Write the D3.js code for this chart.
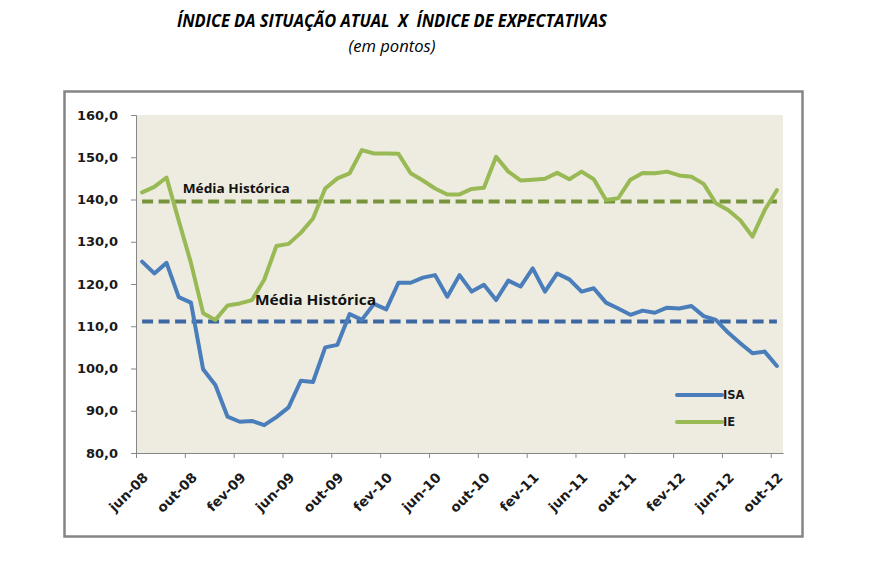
<!DOCTYPE html>
<html>
<head>
<meta charset="utf-8">
<script src="https://cdn.jsdelivr.net/npm/d3@7"></script>
<style>
  html, body { margin: 0; padding: 0; background: #ffffff; }
  svg { display: block; }
</style>
</head>
<body>
<svg id="chart" width="892" height="565"></svg>
<script>
const months = ["jun-08","jul-08","ago-08","set-08","out-08","nov-08","dez-08",
  "jan-09","fev-09","mar-09","abr-09","mai-09","jun-09","jul-09","ago-09","set-09","out-09","nov-09","dez-09",
  "jan-10","fev-10","mar-10","abr-10","mai-10","jun-10","jul-10","ago-10","set-10","out-10","nov-10","dez-10",
  "jan-11","fev-11","mar-11","abr-11","mai-11","jun-11","jul-11","ago-11","set-11","out-11","nov-11","dez-11",
  "jan-12","fev-12","mar-12","abr-12","mai-12","jun-12","jul-12","ago-12","set-12","out-12"];

const isa = [125.3,122.5,125.0,116.9,115.6,99.8,96.1,88.6,87.4,87.6,
  86.6,88.5,90.8,97.1,96.8,105.0,105.6,112.9,111.5,115.3,
  114.0,120.3,120.3,121.5,122.1,117.0,122.1,118.2,119.8,116.2,
  120.8,119.4,123.7,118.2,122.5,121.1,118.2,119.0,115.6,114.2,
  112.7,113.7,113.2,114.4,114.2,114.8,112.4,111.5,108.5,106.0,
  103.6,104.0,100.6];

const ie = [141.7,143.0,145.2,135.0,125.0,113.1,111.5,114.9,115.4,116.2,
  121.0,129.0,129.5,132.1,135.5,142.6,145.0,146.2,151.7,150.9,
  150.9,150.8,146.2,144.5,142.6,141.2,141.2,142.5,142.8,150.1,
  146.6,144.5,144.7,144.9,146.3,144.8,146.6,144.8,139.9,140.3,
  144.7,146.3,146.2,146.6,145.7,145.4,143.7,139.1,137.5,135.1,
  131.2,137.5,142.2];

const meanISA = 111.1;
const meanIE = 139.5;

const yTicks = [80,90,100,110,120,130,140,150,160];
const xTickMonths = ["jun-08","out-08","fev-09","jun-09","out-09","fev-10","jun-10",
  "out-10","fev-11","jun-11","out-11","fev-12","jun-12","out-12"];

const seriesNames = ["ISA","IE"];
const titleText = "ÍNDICE DA SITUAÇÃO ATUAL  X  ÍNDICE DE EXPECTATIVAS";
const subtitleText = "(em pontos)";
const meanLabel = "Média Histórica";

const colors = { ISA: "#4A7EBB", IE: "#98B954", meanISA: "#3C67A3", meanIE: "#77933C" };

const svg = d3.select("#chart");
const W = 892, H = 565;
const plot = { left: 136, right: 783, top: 115, bottom: 453 };

svg.append("rect").attr("width", W).attr("height", H).attr("fill", "#ffffff");

// outer frame
svg.append("rect")
  .attr("x", 64.5).attr("y", 91.5).attr("width", 738).attr("height", 445)
  .attr("fill", "#ffffff").attr("stroke", "#858585").attr("stroke-width", 2.5);

// title
svg.append("text")
  .attr("x", 392).attr("y", 27)
  .attr("text-anchor", "middle")
  .style("font-family", "'Open Sans', sans-serif")
  .style("font-weight", "bold").style("font-style", "italic")
  .style("font-size", "18.5px").attr("fill", "#000")
  .attr("xml:space", "preserve")
  .attr("textLength", 430).attr("lengthAdjust", "spacingAndGlyphs")
  .text(titleText);

svg.append("text")
  .attr("x", 392).attr("y", 52)
  .attr("text-anchor", "middle")
  .style("font-family", "'Open Sans', sans-serif")
  .style("font-style", "italic")
  .style("font-size", "15.5px").attr("fill", "#000")
  .attr("textLength", 87).attr("lengthAdjust", "spacingAndGlyphs")
  .text(subtitleText);

// scales
const x = d3.scalePoint().domain(months).range([plot.left, plot.right]).padding(0.5);
const step = x.step();
const xEdge = d3.scaleLinear().domain([0, months.length]).range([plot.left, plot.right]);
const y = d3.scaleLinear().domain([80, 160]).range([plot.bottom, plot.top]);

// plot bg
svg.append("rect")
  .attr("x", plot.left).attr("y", plot.top)
  .attr("width", plot.right - plot.left).attr("height", plot.bottom - plot.top)
  .attr("fill", "#EEECE1");

// y axis
const yAxis = svg.append("g")
  .attr("transform", `translate(${plot.left},0)`)
  .call(d3.axisLeft(y).tickValues(yTicks).tickSize(5).tickPadding(13)
    .tickFormat(d => d3.format(".1f")(d).replace(".", ",")));
yAxis.select(".domain").attr("stroke", "#868686").attr("stroke-width", 1);
yAxis.selectAll(".tick line").attr("stroke", "#868686");
yAxis.selectAll("text")
  .style("font-family", "'DejaVu Sans', sans-serif").style("font-weight", "bold")
  .style("font-size", "13px").attr("fill", "#1a1a1a");

// x axis
const xTickIdx = xTickMonths.map(m => months.indexOf(m));
const xAxis = svg.append("g")
  .attr("transform", `translate(0,${plot.bottom})`)
  .call(d3.axisBottom(xEdge).tickValues(xTickIdx).tickSize(5).tickSizeOuter(0)
    .tickFormat(i => months[i]));
xAxis.select(".domain").attr("stroke", "#868686").attr("stroke-width", 1);
xAxis.selectAll(".tick line").attr("stroke", "#868686");
xAxis.selectAll("text")
  .attr("text-anchor", "end")
  .attr("dy", "0.35em")
  .attr("transform", `translate(${step / 2 + 3},22) rotate(-45)`)
  .attr("y", 0).attr("x", 0)
  .style("font-family", "'DejaVu Sans', sans-serif").style("font-weight", "bold")
  .style("font-size", "13.5px").attr("fill", "#1a1a1a");

// mean lines
svg.append("path")
  .datum(months)
  .attr("d", d3.line().x(m => x(m)).y(() => y(meanIE)))
  .attr("fill", "none").attr("stroke", colors.meanIE)
  .attr("stroke-width", 4).attr("stroke-dasharray", "11,5.5");
svg.append("path")
  .datum(months)
  .attr("d", d3.line().x(m => x(m)).y(() => y(meanISA)))
  .attr("fill", "none").attr("stroke", colors.meanISA)
  .attr("stroke-width", 4).attr("stroke-dasharray", "11,5.5");

// series lines
const line = d3.line().x((d, i) => x(months[i])).y(d => y(d));
svg.append("path").datum(isa).attr("d", line)
  .attr("fill", "none").attr("stroke", colors.ISA)
  .attr("stroke-width", 4).attr("stroke-linejoin", "round").attr("stroke-linecap", "round");
svg.append("path").datum(ie).attr("d", line)
  .attr("fill", "none").attr("stroke", colors.IE)
  .attr("stroke-width", 4).attr("stroke-linejoin", "round").attr("stroke-linecap", "round");

// mean labels
svg.append("text")
  .attr("x", x(months[3]) + 4).attr("y", y(meanIE) - 9)
  .style("font-family", "'Open Sans', sans-serif").style("font-weight", "bold")
  .style("font-size", "13px").attr("fill", "#111")
  .attr("textLength", 107).attr("lengthAdjust", "spacingAndGlyphs")
  .text(meanLabel);
svg.append("text")
  .attr("x", x(months[9]) + 3).attr("y", y(meanISA) - 17)
  .style("font-family", "'Open Sans', sans-serif").style("font-weight", "bold")
  .style("font-size", "14.5px").attr("fill", "#111")
  .attr("textLength", 121).attr("lengthAdjust", "spacingAndGlyphs")
  .text(meanLabel);

// legend
const legend = svg.append("g").attr("transform", "translate(677,395)");
seriesNames.forEach((name, k) => {
  const g = legend.append("g").attr("transform", `translate(0,${k * 27})`);
  g.append("line").attr("x1", 0).attr("x2", 45).attr("y1", 0).attr("y2", 0)
    .attr("stroke", colors[name]).attr("stroke-width", 4).attr("stroke-linecap", "round");
  g.append("text").attr("x", 46).attr("y", 0).attr("dy", "0.36em")
    .style("font-family", "'DejaVu Sans', sans-serif").style("font-weight", "bold")
    .style("font-size", "11.5px").attr("fill", "#1a1a1a")
    .text(name);
});
</script>
</body>
</html>
